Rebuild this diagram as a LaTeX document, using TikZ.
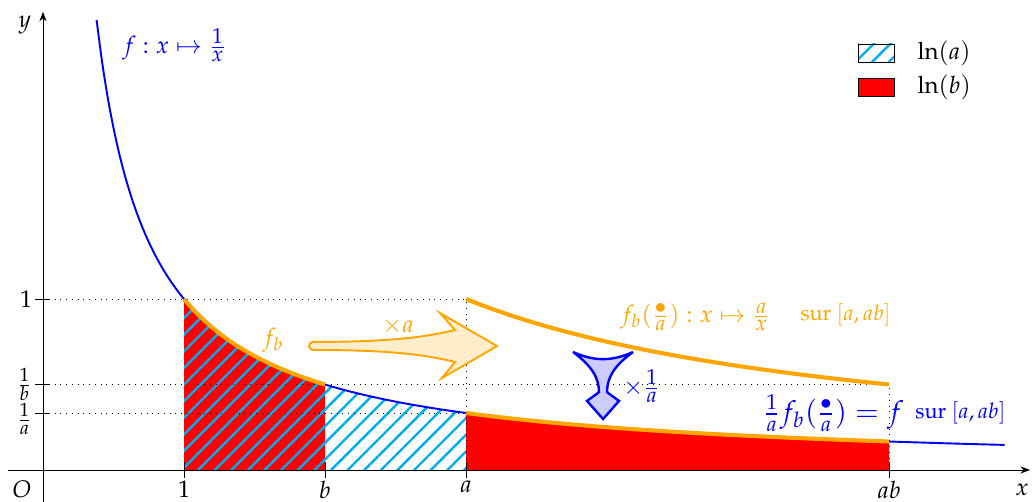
\documentclass[tikz,border=0pt]{standalone}
\usepackage[T1]{fontenc}
\usepackage{mathpazo}
\usepackage{xcolor}
\usepackage{tikz}
\usetikzlibrary{arrows.meta, patterns.meta, positioning, calc}
\newcommand{\pfrac}[3][\small]{\frac{\mbox{#1$#2$}}{\mbox{#1$#3$}}}
\definecolor{curveblue}{HTML}{0000FF}
\definecolor{shiftorange}{HTML}{FFA500}
\definecolor{hatchcyan}{HTML}{00AEEF}
\definecolor{areared}{HTML}{FF0000}

\begin{document}
\begin{tikzpicture}[
  x=2.066cm, y=2.505cm,
  hatch/.style={pattern={Lines[angle=45,distance=4.9pt,line width=1pt]}, pattern color=hatchcyan},
  guide/.style={dotted, line width=0.4pt},
  fat/.style={shiftorange, line width=1.7pt},
  legbox/.style={draw, line width=0.4pt, minimum width=0.527cm, minimum height=0.264cm, inner sep=0pt},
  ticklbl/.style={inner sep=1pt}
]
  \useasboundingbox (-0.305,-0.187) rectangle (7.028,2.749);

  % areas
  \fill[areared] (1,0) -- plot[domain=1:2, samples=40] (\x,{1/\x}) -- (2,0) -- cycle;
  \fill[hatch] (1,0) -- plot[domain=1:3, samples=60] (\x,{1/\x}) -- (3,0) -- cycle;
  \fill[areared] (3,0) -- plot[domain=3:6, samples=60] (\x,{1/\x}) -- (6,0) -- cycle;

  % guides
  \draw[guide] (0,1) -- (3,1);
  \draw[guide] (0,1/2) -- (6,1/2);
  \draw[guide] (0,1/3) -- (3,1/3);
  \draw[guide] (3,0) -- (3,1);
  \draw[guide] (6,0) -- (6,1/2);

  % axes
  \draw[line width=0.4pt, -{Stealth[length=4pt, width=3pt]}] (-0.25,0) -- (7.0,0);
  \draw[line width=0.4pt, -{Stealth[length=4pt, width=3pt]}] (0,-0.187) -- (0,2.68);
  \node (xlbl) at (6.943,-0.117) {$x$};
  \node (ylbl) at (-0.128,2.602) {$y$};
  \node (olbl) at (-0.149,-0.111) {$O$};
  \foreach \t/\l in {1/1, 2/b, 3/a, 6/ab} {
    \draw[line width=0.4pt] (\t,-0.047) -- (\t,0.047);
    \node[ticklbl, below] (xt\t) at (\t,-0.047) {$\l$};
  }
  \foreach \t/\l/\n/\s in {1/1/one/0, 0.5/\pfrac[\footnotesize]{1}{b}/invb/0, 0.3333/\pfrac[\footnotesize]{1}{a}/inva/-2.5} {
    \draw[line width=0.4pt] (-0.057,\t) -- (0.05,\t);
    \node[inner sep=1pt, left, yshift=\s pt] (yt\n) at (-0.057,\t) {$\l$};
  }

  % curves
  \draw[curveblue, line width=0.8pt] plot[domain=0.38:6.82, samples=160, smooth] (\x,{1/\x});
  \draw[fat] plot[domain=1:2, samples=40, smooth] (\x,{1/\x});
  \draw[fat] plot[domain=3:6, samples=60, smooth] (\x,{1/\x});
  \draw[fat] plot[domain=3:6, samples=60, smooth] (\x,{3/\x});

  % arrows
  \draw[shiftorange, fill=shiftorange!20, line width=0.8pt, line join=miter]
    (1.915,0.749) .. controls (2.45,0.749) and (2.70,0.775) .. (2.922,0.819)
    -- (2.816,0.918) -- (3.220,0.725) -- (2.830,0.538) -- (2.922,0.632)
    .. controls (2.70,0.676) and (2.45,0.702) .. (1.915,0.702)
    arc[start angle=270, end angle=90, radius=0.059cm] -- cycle;
  \draw[curveblue, fill=curveblue!20, line width=1pt, line join=miter, miter limit=2.5]
    (3.759,0.690) to[bend right=24] (4.184,0.690)
    .. controls (4.05,0.61) and (4.00,0.54) .. (4.000,0.455)
    -- (4.085,0.404) -- (3.972,0.298) -- (3.858,0.404) -- (3.943,0.455)
    .. controls (3.943,0.54) and (3.89,0.61) .. cycle;

  % labels
  \node[curveblue, anchor=west] (flbl) at (0.503,2.485) {$f : x \mapsto \pfrac{1}{x}$};
  \node[shiftorange] (fblbl) at (1.631,0.760) {$f_b$};
  \node[shiftorange] (timesa) at (2.518,0.842) {$\times a$};
  \node[shiftorange, anchor=west] (fbshift) at (4.035,0.895) {$f_b(\pfrac{\bullet}{a}) : x \mapsto \pfrac{a}{x}$};
  \node[shiftorange, anchor=west, font=\small] (suro) at (5.312,0.906) {sur $[a,ab]$};
  \node[curveblue, anchor=west] (timesinva) at (4.056,0.490) {$\times\pfrac{1}{a}$};
  \node[curveblue, anchor=west, font=\large] (backf) at (5.049,0.333) {$\pfrac{1}{a}f_b(\pfrac{\bullet}{a}) = f$};
  \node[curveblue, anchor=west, font=\small] (surb) at (6.127,0.333) {sur $[a,ab]$};

  % legend
  \node[legbox, hatch] (lega) at (5.908,2.439) {};
  \node[legbox, fill=areared] (legb) at (5.908,2.240) {};
  \node[anchor=west] (legatxt) at (6.142,2.439) {$\ln(a)$};
  \node[anchor=west] (legbtxt) at (6.142,2.240) {$\ln(b)$};
\end{tikzpicture}
\end{document}
